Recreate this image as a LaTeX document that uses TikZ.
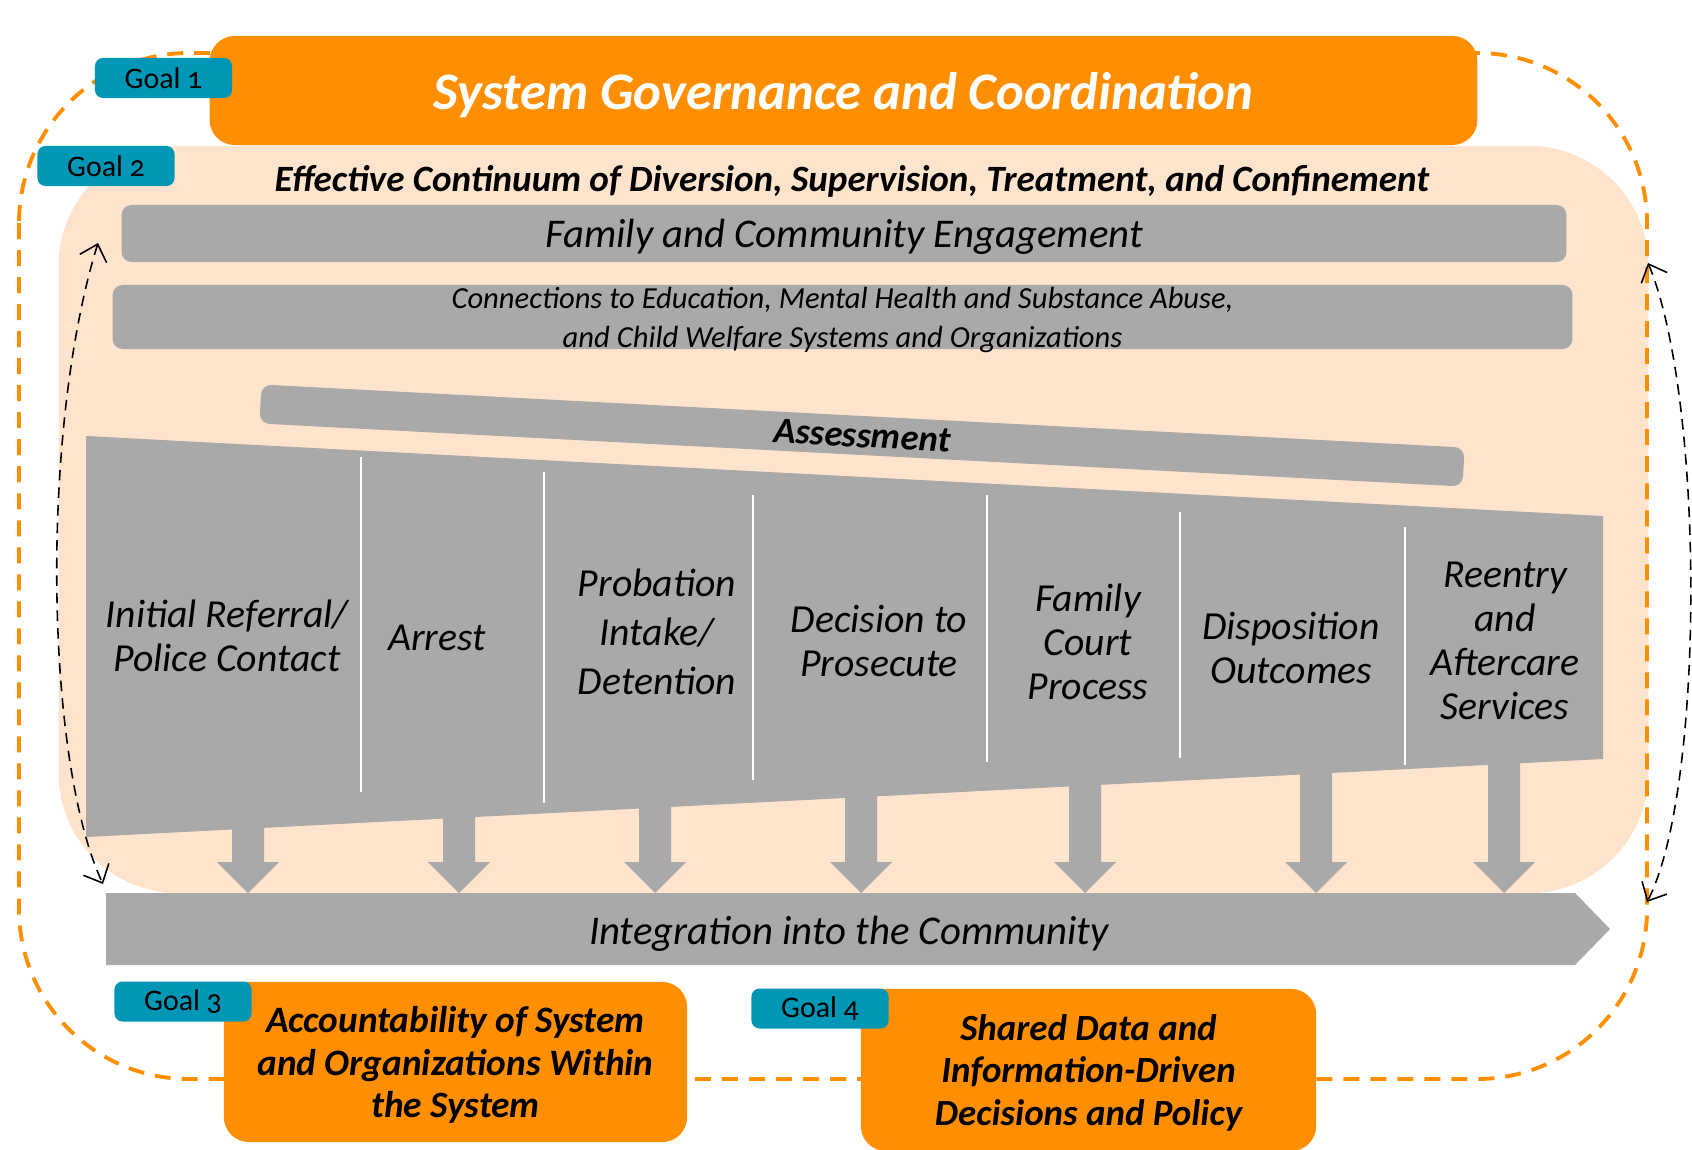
\documentclass[tikz,border=0pt]{standalone}
\usepackage{fontspec}
\setmainfont{Carlito}
\newfontfamily\goalfont[Numbers=OldStyle]{Carlito}
\usetikzlibrary{arrows.meta}

\definecolor{goalorange}{RGB}{255,143,0}
\definecolor{peach}{RGB}{255,228,205}
\definecolor{stepgray}{RGB}{169,169,169}
\definecolor{goalteal}{RGB}{0,150,182}

\tikzset{
    goalbox/.style={fill=goalorange, rounded corners=2.5mm, inner sep=0pt, align=center, text depth=0pt},
    goaltag/.style={fill=goalteal, rounded corners=0.8mm, minimum width=1.37cm, minimum height=0.4cm, inner sep=0pt, font=\goalfont\fontsize{8.5}{10}\selectfont},
    bar/.style={fill=stepgray, rounded corners=1mm, inner sep=0pt, align=center, text depth=0pt},
    steplabel/.style={align=center, font=\itshape\fontsize{11.3}{12.5}\selectfont},
    sepline/.style={white, line width=0.5pt},
    goalloop/.style={goalorange, line width=1.1pt, dash pattern=on 1.6mm off 1.1mm, rounded corners=17mm},
    feedback/.style={densely dashed, line width=0.45pt, >={Straight Barb[length=1.5mm,width=2.8mm]}, <->}
}

\begin{document}
\begin{tikzpicture}[x=0.01cm, y=-0.01cm]
    \useasboundingbox (0,0) rectangle (1692,1149);

    \node[fill=peach, rounded corners=12mm, minimum width=15.89cm, minimum height=7.47cm, inner sep=0pt] (continuum) at (853.5,519.5) {};
    \draw[goalloop] (19,53) rectangle (1647,1079);

    \coordinate (fbLtop) at (98,243);
    \coordinate (fbLbot) at (103,884);
    \coordinate (fbRtop) at (1648,263);
    \coordinate (fbRbot) at (1647,902);
    \draw[feedback] (fbLtop) .. controls (40,430) and (45,760) .. (fbLbot);
    \draw[feedback] (fbRtop) .. controls (1705,400) and (1705,790) .. (fbRbot);

    \node[goalbox, text=white, minimum width=12.67cm, minimum height=1.09cm, font=\bfseries\itshape\fontsize{15}{18}\selectfont] (gov) at (843.5,90.5) {System Governance and Coordination};
    \node[goaltag] (tag1) at (163.5,78) {Goal 1};
    \node[goaltag] (tag2) at (106,166) {Goal 2};
    \node[font=\bfseries\itshape\fontsize{10.55}{12}\selectfont] (heading) at (852,181) {Effective Continuum of Diversion, Supervision, Treatment, and Confinement};

    \node[bar, minimum width=14.44cm, minimum height=0.57cm, font=\itshape\fontsize{11.6}{14}\selectfont] (engage) at (844,233.5) {Family and Community Engagement};
    \node[bar, minimum width=14.59cm, minimum height=0.64cm, font=\itshape\fontsize{8.7}{11.1}\selectfont] (connect) at (842.5,317) {Connections to Education, Mental Health and Substance Abuse,\\and Child Welfare Systems and Organizations};
    \node[bar, rotate=-3, minimum width=12.04cm, minimum height=0.39cm, font=\bfseries\itshape\fontsize{10.4}{12}\selectfont] (assess) at (862,435.5) {Assessment};

    \fill[stepgray] (86,436) -- (1603,516) -- (1603,759) -- (86,837) -- cycle;
    \foreach \x/\a/\b in {361/457/792, 544/472/803, 753/495/780, 987/495/762, 1180/512/758, 1405/527/765}
        \draw[sepline] (\x,\a) -- (\x,\b);

    \node[steplabel] (referral) at (227,636) {Initial Referral/\\Police Contact};
    \node[steplabel] (arrest) at (437,638) {Arrest};
    \node[steplabel, font=\itshape\fontsize{11.3}{14}\selectfont] (intake) at (657,632) {Probation\\Intake/\\Detention};
    \node[steplabel] (prosecute) at (879,641) {Decision to\\Prosecute};
    \node[steplabel] (court) at (1088,642) {Family\\Court\\Process};
    \node[steplabel] (disposition) at (1291,648) {Disposition\\Outcomes};
    \node[steplabel] (reentry) at (1505,641) {Reentry\\and\\Aftercare\\Services};

    \foreach \x in {248,459,655,861,1085,1316,1504}
        \fill[stepgray] (\x-16,740) -- (\x+16,740) -- (\x+16,862) -- (\x+31,862) -- (\x,893) -- (\x-31,862) -- (\x-16,862) -- cycle;

    \fill[stepgray] (106,893) -- (1575,893) -- (1610,929) -- (1575,965) -- (106,965) -- cycle;
    \node[font=\itshape\fontsize{11.6}{14}\selectfont] (integ) at (849,934) {Integration into the Community};

    \node[goalbox, minimum width=4.63cm, minimum height=1.6cm, font=\bfseries\itshape\fontsize{10.6}{12.2}\selectfont] (acct) at (455.5,1062) {Accountability of System\\and Organizations Within\\the System};
    \node[goaltag] (tag3) at (183,1001.5) {Goal 3};
    \node[goalbox, minimum width=4.55cm, minimum height=1.62cm, font=\bfseries\itshape\fontsize{10.5}{12.2}\selectfont] (shared) at (1088.5,1070) {Shared Data and\\Information-Driven\\Decisions and Policy};
    \node[goaltag] (tag4) at (820,1008.5) {Goal 4};

\end{tikzpicture}
\end{document}
